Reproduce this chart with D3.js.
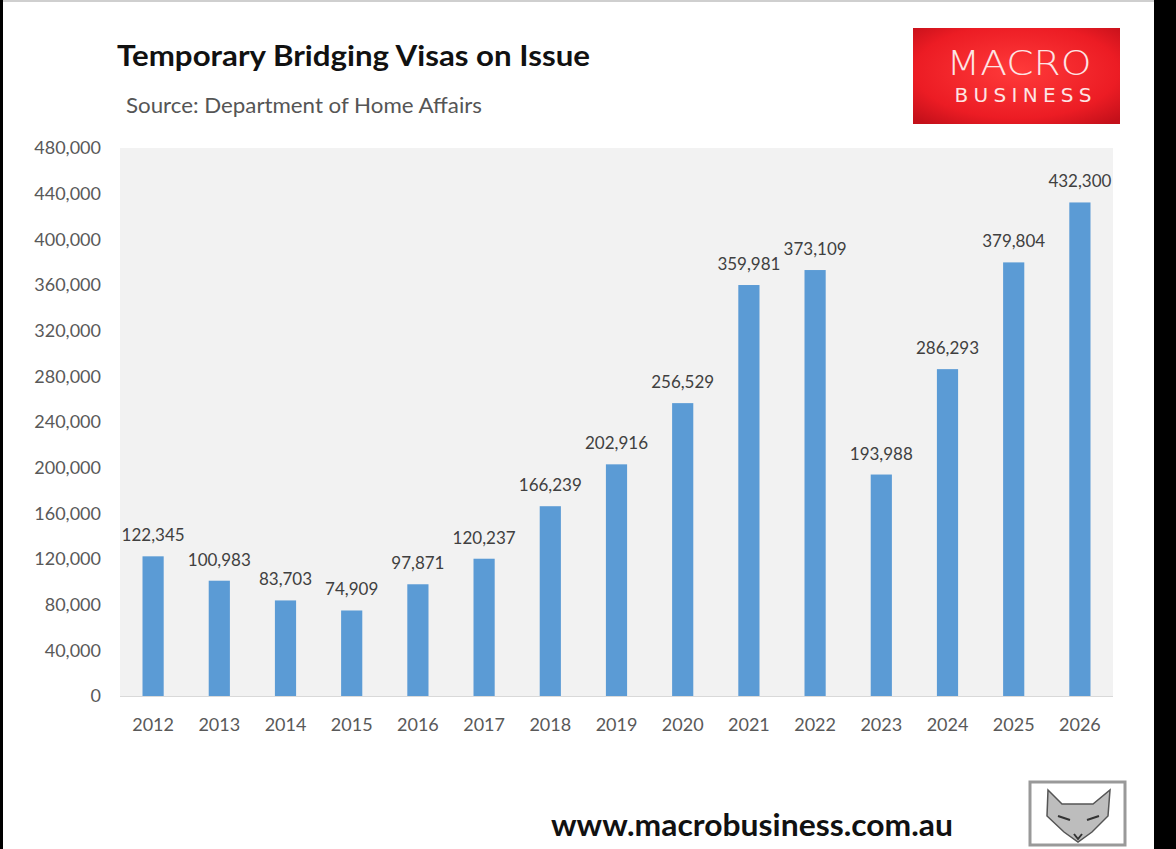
<!DOCTYPE html>
<html><head><meta charset="utf-8">
<script src="https://cdn.jsdelivr.net/npm/d3@7/dist/d3.min.js"></script>
<style>body{margin:0;background:#fff;overflow:hidden}svg{display:block}</style>
</head><body>
<svg id="c" width="1176" height="849"></svg>
<script>
const years = ["2012","2013","2014","2015","2016","2017","2018","2019","2020","2021","2022","2023","2024","2025","2026"];
const visas = [122345,100983,83703,74909,97871,120237,166239,202916,256529,359981,373109,193988,286293,379804,432300];
const yTicks = [0,40000,80000,120000,160000,200000,240000,280000,320000,360000,400000,440000,480000];
const titleText = "Temporary Bridging Visas on Issue";
const sourceText = "Source: Department of Home Affairs";
const urlText = "www.macrobusiness.com.au";

const svg = d3.select("#c");
const font = "Lato, 'Open Sans', sans-serif";
const W = 1176, H = 849;

svg.append("rect").attr("width",W).attr("height",H).attr("fill","#fff");
// screenshot frame
svg.append("rect").attr("x",0).attr("y",0).attr("width",1154).attr("height",2).attr("fill","#cfcfcf");
svg.append("rect").attr("x",0).attr("y",0).attr("width",3).attr("height",H).attr("fill","#000");
svg.append("rect").attr("x",1154).attr("y",0).attr("width",W-1154).attr("height",H).attr("fill","#000");

const m = {left:120, right:1113, top:148, bottom:696};
const x = d3.scaleBand().domain(years).range([m.left,m.right]).paddingInner(0.68).paddingOuter(0.34);
const y = d3.scaleLinear().domain([0,480000]).range([m.bottom,m.top]);

svg.append("rect").attr("x",m.left).attr("y",m.top).attr("width",m.right-m.left).attr("height",m.bottom-m.top).attr("fill","#f2f2f2");

// y axis
const ya = svg.append("g").attr("transform",`translate(${m.left},0)`)
  .call(d3.axisLeft(y).tickValues(yTicks).tickSize(0).tickPadding(19).tickFormat(d3.format(",")));
ya.select(".domain").remove();
ya.selectAll("text").attr("font-family",font).attr("font-size",18).attr("fill","#595959");

// baseline
svg.append("line").attr("x1",m.left).attr("x2",m.right).attr("y1",m.bottom+0.5).attr("y2",m.bottom+0.5).attr("stroke","#d9d9d9");

// x axis
const xa = svg.append("g").attr("transform",`translate(0,${m.bottom})`)
  .call(d3.axisBottom(x).tickSize(0).tickPadding(22));
xa.select(".domain").remove();
xa.selectAll("text").attr("font-family",font).attr("font-size",18).attr("fill","#595959");

// bars
svg.append("g").selectAll("rect").data(visas).join("rect")
  .attr("x",(d,i)=>x(years[i])).attr("width",x.bandwidth())
  .attr("y",d=>y(d)).attr("height",d=>y(0)-y(d)).attr("fill","#5b9bd5");

svg.append("g").selectAll("text").data(visas).join("text")
  .attr("x",(d,i)=>x(years[i])+x.bandwidth()/2).attr("y",d=>y(d)-15)
  .attr("text-anchor","middle").attr("font-family",font).attr("font-size",17).attr("fill","#404040")
  .text(d=>d3.format(",")(d));

// titles
svg.append("text").attr("x",117).attr("y",66).attr("font-family",font).attr("font-weight",700)
  .attr("font-size",28).attr("fill","#111").attr("textLength",473).attr("lengthAdjust","spacingAndGlyphs").text(titleText);
svg.append("text").attr("x",126).attr("y",113).attr("font-family",font)
  .attr("font-size",20.5).attr("fill","#555").attr("textLength",356).attr("lengthAdjust","spacingAndGlyphs").text(sourceText);

// logo
const defs = svg.append("defs");
const g = defs.append("radialGradient").attr("id","rg").attr("cx","50%").attr("cy","45%").attr("r","70%");
g.append("stop").attr("offset","0%").attr("stop-color","#ff3a3a");
g.append("stop").attr("offset","70%").attr("stop-color","#ec1c24");
g.append("stop").attr("offset","100%").attr("stop-color","#c4101a");
svg.append("rect").attr("x",913).attr("y",28).attr("width",207).attr("height",96).attr("fill","url(#rg)");
svg.append("text").attr("x",1019).attr("y",75).attr("text-anchor","middle").attr("font-family","'DejaVu Sans', sans-serif")
  .attr("font-size",33).attr("font-weight",300).attr("fill","#fde4e4").attr("textLength",145).attr("lengthAdjust","spacingAndGlyphs").text("MACRO");
svg.append("text").attr("x",1023).attr("y",102).attr("text-anchor","middle").attr("font-family","'DejaVu Sans', sans-serif")
  .attr("font-size",20).attr("fill","#fde4e4").attr("textLength",137).text("BUSINESS");

// url
svg.append("text").attr("x",551).attr("y",836).attr("font-family",font).attr("font-weight",700)
  .attr("font-size",31).attr("fill","#111").attr("textLength",402).attr("lengthAdjust","spacingAndGlyphs").text(urlText);

// fox badge
const fx = 1030, fy = 782;
svg.append("rect").attr("x",fx).attr("y",fy).attr("width",95).attr("height",63).attr("fill","#fff").attr("stroke","#999").attr("stroke-width",3);
svg.append("path").attr("d",`M${fx+18},${fy+8} L${fx+32},${fy+22} L${fx+63},${fy+22} L${fx+80},${fy+8} L${fx+78},${fy+34} L${fx+62},${fy+50} L${fx+48},${fy+60} L${fx+34},${fy+50} L${fx+17},${fy+34} Z`)
  .attr("fill","#bdbdbd").attr("stroke","#555").attr("stroke-width",1.5);
svg.append("path").attr("d",`M${fx+28},${fy+34} L${fx+40},${fy+38} M${fx+57},${fy+38} L${fx+69},${fy+34} M${fx+44},${fy+52} L${fx+48},${fy+57} L${fx+52},${fy+52}`)
  .attr("stroke","#333").attr("stroke-width",2).attr("fill","none");
</script>
</body></html>
